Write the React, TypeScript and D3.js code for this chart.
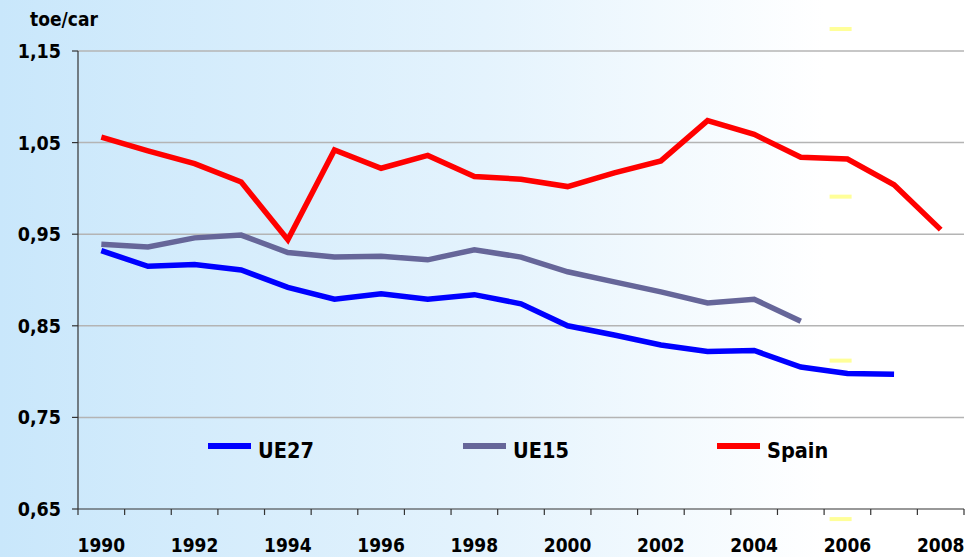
import React from 'react';
import * as d3 from 'd3';

const years = [
  '1990', '1991', '1992', '1993', '1994', '1995', '1996', '1997', '1998', '1999',
  '2000', '2001', '2002', '2003', '2004', '2005', '2006', '2007', '2008',
];

// UE27 stops at 2007, UE15 at 2005
const ue27 = [
  0.932, 0.915, 0.917, 0.911, 0.892, 0.879, 0.885, 0.879, 0.884, 0.874,
  0.850, 0.840, 0.829, 0.822, 0.823, 0.805, 0.798, 0.797,
];
const ue15 = [
  0.939, 0.936, 0.946, 0.949, 0.930, 0.925, 0.926, 0.922, 0.933, 0.925,
  0.909, 0.898, 0.887, 0.875, 0.879, 0.855,
];
const spain = [
  1.056, 1.041, 1.027, 1.007, 0.944, 1.042, 1.022, 1.036, 1.013, 1.010,
  1.002, 1.017, 1.030, 1.074, 1.059, 1.034, 1.032, 1.004, 0.955,
];

const yTicks = [0.65, 0.75, 0.85, 0.95, 1.05, 1.15];
const yellowMarks = [1.174, 0.991, 0.812, 0.639];

const series = [
  { name: 'UE27', values: ue27, color: '#0000ff' },
  { name: 'UE15', values: ue15, color: '#666699' },
  { name: 'Spain', values: spain, color: '#ff0000' },
];

const W = 969;
const H = 557;
const font = '"DejaVu Sans Condensed", "DejaVu Sans", Verdana, sans-serif';

export default function App() {
  const x = d3.scaleBand<string>().domain(years).range([78, 964]).padding(0);
  const y = d3.scaleLinear().domain([0.65, 1.15]).range([509, 51]);
  const cx = (i: number) => (x(years[i]) ?? 0) + x.bandwidth() / 2;

  const line = d3
    .line<number>()
    .x((_, i) => cx(i))
    .y(d => y(d));

  const fmt = (v: number) => d3.format('.2f')(v).replace('.', ',');
  const legendX = [208, 463, 717];

  return (
    <svg
      width={W}
      height={H}
      style={{ position: 'absolute', left: 0, top: 0, display: 'block' }}
      fontFamily={font}
    >
      <defs>
        <linearGradient id="bg" x1="0" x2="1" y1="0" y2="0">
          <stop offset="0" stopColor="#c9e7fb" />
          <stop offset="0.5" stopColor="#e4f3fd" />
          <stop offset="0.85" stopColor="#ffffff" />
          <stop offset="1" stopColor="#ffffff" />
        </linearGradient>
      </defs>
      <rect x={0} y={0} width={W} height={H} fill="url(#bg)" />

      {/* grid */}
      {yTicks.slice(1).map(t => (
        <line key={t} x1={78} x2={964} y1={y(t)} y2={y(t)} stroke="#b4b4b4" strokeWidth={1.5} />
      ))}

      {/* yellow dashes */}
      {yellowMarks.map(v => (
        <rect
          key={v}
          x={(x('2006') ?? 0) + 5.5}
          y={y(v) - 2}
          width={22}
          height={4}
          fill="#ffff99"
        />
      ))}

      {/* axes */}
      <line x1={78} x2={78} y1={51} y2={509} stroke="#333" strokeWidth={1.2} />
      <line x1={78} x2={964} y1={509} y2={509} stroke="#333" strokeWidth={1.2} />
      {yTicks.map(t => (
        <g key={t}>
          <line x1={72} x2={78} y1={y(t)} y2={y(t)} stroke="#333" strokeWidth={1.2} />
          <text x={61} y={y(t) + 7} textAnchor="end" fontSize={19.5} fontWeight="bold">
            {fmt(t)}
          </text>
        </g>
      ))}
      {years.map(yr => (
        <line
          key={yr}
          x1={x(yr)}
          x2={x(yr)}
          y1={509}
          y2={515}
          stroke="#333"
          strokeWidth={1.2}
        />
      ))}
      <line x1={964} x2={964} y1={509} y2={515} stroke="#333" strokeWidth={1.2} />
      {years.filter((_, i) => i % 2 === 0).map(yr => (
        <text
          key={yr}
          x={(x(yr) ?? 0) + x.bandwidth() / 2}
          y={552}
          textAnchor="middle"
          fontSize={19}
          fontWeight="bold"
        >
          {yr}
        </text>
      ))}

      <text x={30} y={26} fontSize={19} fontWeight="bold">toe/car</text>

      {/* lines */}
      {series.map(s => (
        <path
          key={s.name}
          d={line(s.values) ?? ''}
          fill="none"
          stroke={s.color}
          strokeWidth={5.5}
          strokeLinejoin="miter"
        />
      ))}

      {/* legend */}
      {series.map((s, i) => (
        <g key={s.name}>
          <line
            x1={legendX[i]}
            x2={legendX[i] + 43}
            y1={446}
            y2={446}
            stroke={s.color}
            strokeWidth={6}
          />
          <text x={legendX[i] + 50} y={457.5} fontSize={21.5} fontWeight="bold">
            {s.name}
          </text>
        </g>
      ))}
    </svg>
  );
}
